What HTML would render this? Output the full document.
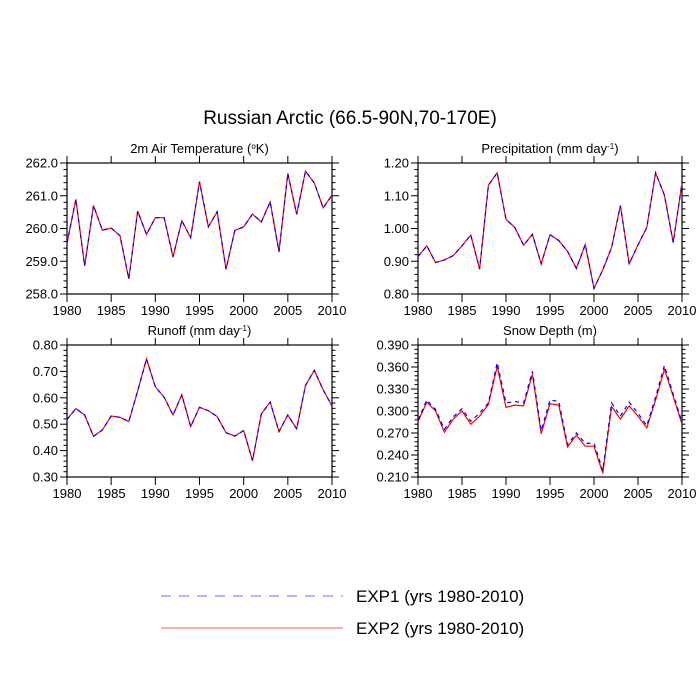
<!DOCTYPE html>
<html><head><meta charset="utf-8"><style>
body{margin:0;background:#fff}
svg{display:block;font-family:"Liberation Sans",Arial,sans-serif}
</style></head><body>
<svg id="c" width="700" height="700" viewBox="0 0 700 700">
<text x="350" y="124" font-size="19" text-anchor="middle">Russian Arctic (66.5-90N,70-170E)</text>
<g>
<line x1="161" y1="596" x2="343" y2="596" stroke="#6b6bff" stroke-width="1" stroke-dasharray="10,8"/>
<text x="356" y="602" font-size="17">EXP1 (yrs 1980-2010)</text>
<line x1="161" y1="628" x2="343" y2="628" stroke="#ff5a5a" stroke-width="1"/>
<text x="356" y="634" font-size="17">EXP2 (yrs 1980-2010)</text>
</g>
</svg>
<script>
const years=[1980,1981,1982,1983,1984,1985,1986,1987,1988,1989,1990,1991,1992,1993,1994,1995,1996,1997,1998,1999,2000,2001,2002,2003,2004,2005,2006,2007,2008,2009,2010];
const xTicks=[1980,1985,1990,1995,2000,2005,2010];
const tempExp2=[259.55,260.89,258.86,260.70,259.95,260.01,259.78,258.46,260.53,259.82,260.33,260.33,259.13,260.24,259.72,261.43,260.05,260.51,258.76,259.94,260.05,260.44,260.20,260.81,259.29,261.68,260.43,261.75,261.39,260.63,261.02];
const tempExp1=tempExp2.slice();
const tempTicks=["258.0","259.0","260.0","261.0","262.0"];
const precExp2=[0.914,0.947,0.896,0.904,0.917,0.947,0.980,0.876,1.132,1.170,1.028,1.003,0.949,0.982,0.892,0.981,0.963,0.930,0.878,0.951,0.817,0.874,0.942,1.070,0.892,0.950,1.003,1.170,1.102,0.957,1.139];
const precExp1=precExp2.slice();
const precTicks=["0.80","0.90","1.00","1.10","1.20"];
const runExp2=[0.518,0.559,0.535,0.454,0.478,0.531,0.526,0.510,0.626,0.747,0.642,0.602,0.535,0.611,0.491,0.564,0.551,0.529,0.468,0.455,0.476,0.362,0.539,0.584,0.472,0.535,0.482,0.647,0.704,0.630,0.569];
const runExp1=runExp2.slice();
const runTicks=["0.30","0.40","0.50","0.60","0.70","0.80"];
const snowExp2=[0.2855,0.312,0.300,0.271,0.289,0.300,0.282,0.293,0.309,0.361,0.305,0.308,0.307,0.350,0.269,0.310,0.308,0.251,0.267,0.252,0.252,0.215,0.306,0.289,0.307,0.293,0.277,0.315,0.357,0.320,0.282];
const snowExp1=[0.288,0.315,0.302,0.275,0.292,0.303,0.286,0.297,0.311,0.366,0.311,0.313,0.311,0.354,0.273,0.315,0.313,0.254,0.270,0.256,0.256,0.219,0.311,0.293,0.312,0.297,0.280,0.319,0.362,0.323,0.285];
const snowTicks=["0.210","0.240","0.270","0.300","0.330","0.360","0.390"];

const NS="http://www.w3.org/2000/svg";
const svg=document.getElementById('c');
function mk(tag,attrs,parent){const e=document.createElementNS(NS,tag);for(const k in attrs)e.setAttribute(k,attrs[k]);(parent||svg).appendChild(e);return e;}

function panel(name,title,x0,y0,x1,y1,ticks,e1,e2){
  const g=mk('g',{});
  
  
  const tv=ticks.map(Number);const ymin=tv[0],ymax=tv[tv.length-1];
  const X=v=>x0+(v-1980)/30*(x1-x0);
  const Y=v=>y1-(v-ymin)/(ymax-ymin)*(y1-y0);
  const t=mk('text',{x:(x0+x1)/2,y:y0-10,'font-size':13,'text-anchor':'middle'},g);
  t.innerHTML=title;
  
  
  const n=tv.length-1;
  for(let i=0;i<=n*5;i++){
    const v=ymin+(ymax-ymin)*i/(n*5);const yy=Y(v);const maj=i%5===0;const L=maj?7:3.5;
    mk('line',{x1:x0-L,y1:yy,x2:x0,y2:yy,stroke:'#000','stroke-width':1},g);
    mk('line',{x1:x1,y1:yy,x2:x1+L,y2:yy,stroke:'#000','stroke-width':1},g);
  }
  ticks.forEach((s,i)=>{
    const l=mk('text',{x:x0-9,y:Y(tv[i])+4.5,'font-size':13,'text-anchor':'end'},g);l.textContent=s;
    
    
  });
  xTicks.forEach(v=>{
    const xx=X(v);
    mk('line',{x1:xx,y1:y1,x2:xx,y2:y1+8,stroke:'#000','stroke-width':1},g);
    mk('line',{x1:xx,y1:y0-7,x2:xx,y2:y0,stroke:'#000','stroke-width':1},g);
    const l=mk('text',{x:xx,y:y1+21,'font-size':13,'text-anchor':'middle'},g);l.textContent=v;
    
    
  });
  const fr=mk('rect',{x:x0,y:y0,width:x1-x0,height:y1-y0,fill:'none',stroke:'#000','stroke-width':1.2},g);
  
  
  const p2=mk('polyline',{points:e2.map((v,i)=>X(years[i])+','+Y(v)).join(' '),fill:'none',stroke:'#ff0000','stroke-width':1.2},g);
  
  
  const p1=mk('polyline',{points:e1.map((v,i)=>X(years[i])+','+Y(v)).join(' '),fill:'none',stroke:'#0000ff','stroke-width':1.2,'stroke-dasharray':'4,4'},g);
  
  
}
panel('air-temperature','2m Air Temperature (<tspan font-size="8" dy="-4">o</tspan><tspan dy="4">K)</tspan>',67,163,332,294,tempTicks,tempExp1,tempExp2);
panel('precipitation','Precipitation (mm day<tspan font-size="8" dy="-4">-1</tspan><tspan dy="4">)</tspan>',418,163,682,294,precTicks,precExp1,precExp2);
panel('runoff','Runoff (mm day<tspan font-size="8" dy="-4">-1</tspan><tspan dy="4">)</tspan>',67,345,332,477,runTicks,runExp1,runExp2);
panel('snow-depth','Snow Depth (m)',418,345,682,477,snowTicks,snowExp1,snowExp2);
</script>
</body></html>
